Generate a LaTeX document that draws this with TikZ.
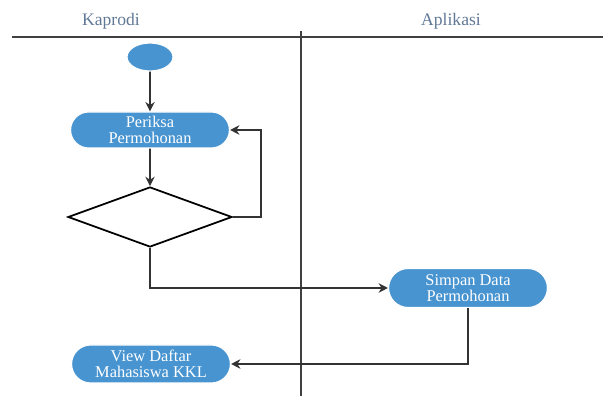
\documentclass[tikz,border=0pt]{standalone}
\usepackage{fontspec}
\setmainfont{Liberation Serif}
\usetikzlibrary{shapes.geometric,shapes.misc,arrows.meta}
\definecolor{actblue}{RGB}{72,148,208}
\definecolor{lanetext}{RGB}{96,120,150}

\begin{document}
\begin{tikzpicture}[x=0.03cm,y=-0.03cm,->,>={Stealth[length=8pt,width=8pt]},
  act node/.style={rounded rectangle,fill=actblue,draw=white,line width=1pt,
  text=white,font=\fontsize{14}{13.5}\selectfont,align=center,
  minimum width=5cm,minimum height=1.14cm},
  lane/.style={-,line width=1.5pt,draw=black!75},
  flow/.style={line width=1.5pt,draw=black!80}]

  \useasboundingbox (0,0) rectangle (608,403);

  % swimlanes
  \node[text=lanetext,font=\fontsize{15}{15}\selectfont] (kaprodi) at (111,21) {Kaprodi};
  \node[text=lanetext,font=\fontsize{15}{15}\selectfont] (aplikasi) at (451,21) {Aplikasi};
  \draw[lane] (12,37) -- (603,37);
  \draw[lane] (301,31) -- (301,396);

  \node[ellipse,fill=actblue,draw=white,line width=1pt,
    minimum width=1.38cm,minimum height=0.84cm] (start) at (150,57) {};
  \node[act node,minimum height=1.08cm] (periksa) at (150,130) {Periksa\\Permohonan};
  \node[diamond,draw,fill=white,minimum width=4.92cm,minimum height=1.8cm,
    line width=1.5pt] (cek) at (150,217) {};
  \node[act node,minimum height=1.17cm] (simpan) at (468,288) {Simpan Data\\Permohonan};
  \node[act node] (view) at (151,364) {View Daftar\\Mahasiswa KKL};

  \path[flow]
    (start) edge (periksa)
    (periksa) edge (cek);
  % loop back and the flow to the right lane
  \draw[flow] (cek.east) -- ++(28,0) |- (periksa.east);
  \draw[flow] (cek.south) |- (simpan.west);
  \draw[flow] (simpan.south) |- (view.east);
\end{tikzpicture}
\end{document}
